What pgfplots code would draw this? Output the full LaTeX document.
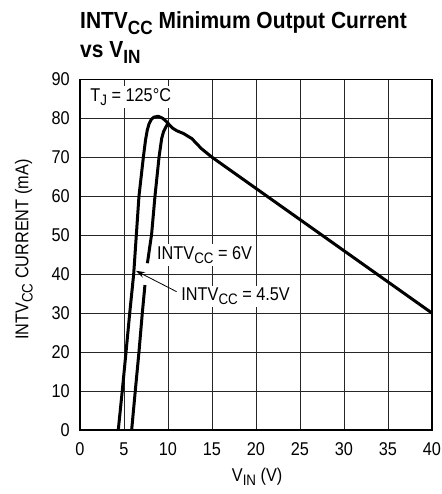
\documentclass[border=0pt]{standalone}
\usepackage{fontspec}
\setmainfont{Liberation Sans}[FakeStretch=0.88]
\newfontfamily\titlefont{Liberation Sans}[FakeStretch=0.9]
\usepackage{graphicx}
\usepackage{pgfplots}
\pgfplotsset{compat=1.18}
\usetikzlibrary{arrows.meta}
\newcommand{\sub}[1]{\raisebox{-0.23em}{\scalebox{0.82}{#1}}}

\begin{document}
\fontsize{18.5bp}{22bp}\selectfont
\begin{tikzpicture}
\path[use as bounding box] (0bp,0bp) rectangle (442bp,494bp);
\node[anchor=base west, inner sep=0pt, font=\titlefont\bfseries\fontsize{23.3bp}{26bp}\selectfont] at (80bp,465bp) {INTV\sub{CC} Minimum Output Current};
\node[anchor=base west, inner sep=0pt, font=\titlefont\bfseries\fontsize{23.3bp}{26bp}\selectfont] at (80bp,436.3bp) {vs V\sub{IN}};
\begin{axis}[
  at={(80bp,64bp)}, anchor=south west,
  scale only axis, width=352bp, height=350.7bp,
  xmin=0, xmax=40, ymin=0, ymax=90,
  xtick={0,5,...,40}, ytick={0,10,...,90},
  grid=major,
  major grid style={black!85, line width=0.7bp},
  axis line style={line width=1.3bp},
  major tick length=0pt,
  /pgf/number format/assume math mode=true,
  tick label style={font=\fontsize{18.5bp}{22bp}\selectfont},
  yticklabel style={xshift=-4bp},
  xticklabel style={yshift=-6bp},
  xlabel={V\sub{IN} (V)},
  xlabel style={at={(axis description cs:0.431,-0.147)}, anchor=base west, inner sep=0pt, font=\fontsize{18.5bp}{22bp}\selectfont},
  ylabel={INTV\sub{CC} CURRENT (mA)},
  ylabel style={at={(axis description cs:-0.147,0.2566)}, anchor=base west, inner sep=0pt, rotate=0, font=\fontsize{18.5bp}{22bp}\selectfont},
]
% INTVcc = 4.5V
\addplot[black, line width=3bp, line join=round] coordinates {
(4.35,0) (4.8,10) (5.23,20) (5.65,30) (6.1,40) (6.4,50) (6.7,60) (7.2,70)
(7.45,74.5) (7.65,77) (7.85,78.6) (8.1,79.7) (8.4,80.3) (8.9,80.5) (9.4,80.0)
(9.85,79.1) (10.0,78.7) (10.5,77.5) (11.0,76.8) (11.75,76.1) (12.7,74.8)
(13.8,72.2) (15,70) (40,30)};
% INTVcc = 6V (broken where the arrow crosses)
\addplot[black, line width=3bp, line join=round] coordinates {
(5.87,0) (6.28,10) (6.7,20) (7.08,30) (7.38,37.2)};
\addplot[black, line width=3bp, line join=round] coordinates {
(7.66,42.8) (8.14,50.3) (8.52,60) (8.98,70) (9.28,74.8) (9.5,76.6) (9.77,77.8) (10.0,78.7)};
\node[fill=white, inner sep=2bp, anchor=base west] at (axis cs:0.94,84.4) {T\sub{J} = 125°C};
\node[fill=white, inner sep=2bp, anchor=base west] at (axis cs:8.52,43.85) {INTV\sub{CC} = 6V};
\node[fill=white, inner sep=2bp, anchor=base west] at (axis cs:11.28,33.3) {INTV\sub{CC} = 4.5V};
\draw[line width=0.8bp, -{Stealth[length=9bp,width=6bp]}] (axis cs:10.98,35.5) -- (axis cs:6.36,40.85);
\end{axis}
\end{tikzpicture}
\end{document}
